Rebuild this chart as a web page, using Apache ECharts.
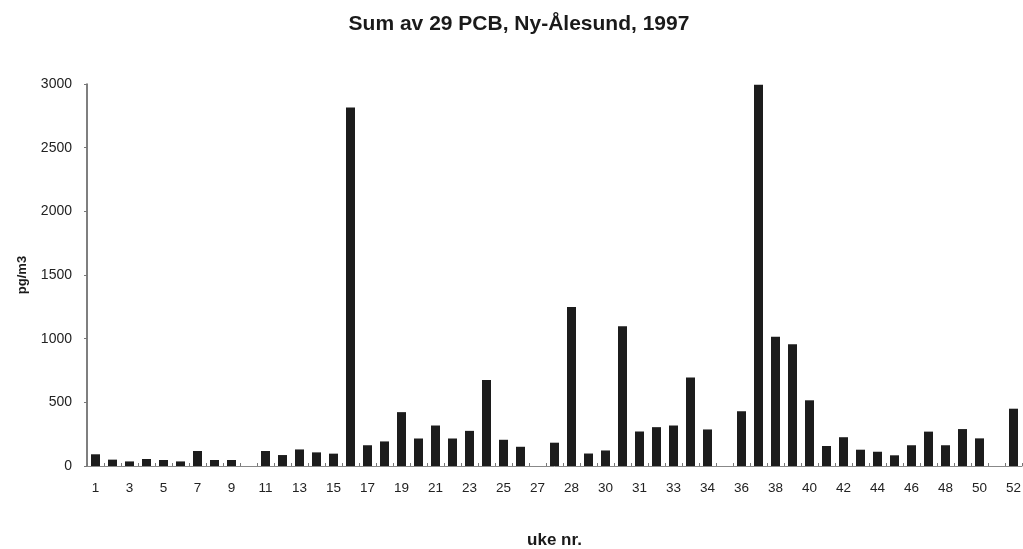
<!DOCTYPE html>
<html>
<head>
<meta charset="utf-8">
<title>Sum av 29 PCB, Ny-Ålesund, 1997</title>
<script src="https://cdn.jsdelivr.net/npm/echarts@6/dist/echarts.min.js"></script>
<style>
  html, body { margin: 0; padding: 0; background: #ffffff; }
  #chart { width: 1023px; height: 549px; }
</style>
</head>
<body>
<div id="chart"></div>
<script>
// Sampling weeks (some weeks carry two samples, so labels repeat)
const weeks = [
  '1','2','3','4','5','6','7','8','9','10',
  '11','12','13','14','15','16','17','18','19','20',
  '21','22','23','24','25','26','27','28','28','29',
  '30','30','31','32','33','33','34','35','36','37',
  '38','39','40','41','42','43','44','45','46','47',
  '48','49','50','51','52'
];

// Sum of 29 PCB congeners, pg/m3 (null = no sample)
const pcbSum = [
  92, 50, 36, 55, 47, 36, 118, 47, 47, null,
  118, 86, 130, 107, 97, 2815, 163, 193, 423, 216,
  318, 216, 276, 675, 206, 151, null, 183, 1249, 98,
  122, 1098, 271, 305, 318, 695, 287, null, 430, 2995,
  1016, 956, 516, 157, 226, 128, 112, 84, 163, 270,
  163, 290, 217, null, 450
];

const yTicks = { min: 0, max: 3000, interval: 500 };

const chart = echarts.init(document.getElementById('chart'), null, { renderer: 'canvas' });

const font = '"Liberation Sans", Arial, Helvetica, sans-serif';

chart.setOption({
  animation: false,
  backgroundColor: '#ffffff',
  title: {
    text: 'Sum av 29 PCB, Ny-Ålesund, 1997',
    left: 514,
    textAlign: 'center',
    top: 9,
    textStyle: { fontFamily: font, fontSize: 21, fontWeight: 'bold', color: '#1a1a1a' }
  },
  grid: { left: 87, right: 1, top: 84, bottom: 83, containLabel: false, outerBoundsMode: 'none' },
  xAxis: {
    type: 'category',
    data: weeks,
    name: 'uke nr.',
    nameLocation: 'middle',
    nameGap: 66,
    nameTextStyle: { fontFamily: font, fontSize: 17, fontWeight: 'bold', color: '#1a1a1a' },
    axisLine: { show: true, lineStyle: { color: '#888888', width: 1 } },
    axisTick: { show: true, inside: true, length: 3, alignWithLabel: false, interval: 0, lineStyle: { color: '#777777' } },
    axisLabel: { interval: 1, margin: 15, fontFamily: font, fontSize: 13.5, color: '#222222' },
    splitLine: { show: false }
  },
  yAxis: {
    type: 'value',
    min: yTicks.min,
    max: yTicks.max,
    interval: yTicks.interval,
    name: 'pg/m3',
    nameLocation: 'middle',
    nameRotate: 90,
    nameGap: 58,
    nameTextStyle: { fontFamily: font, fontSize: 13, fontWeight: 'bold', color: '#1a1a1a' },
    axisLine: { show: true, lineStyle: { color: '#555555', width: 1.5 } },
    axisTick: { show: true, length: 3, lineStyle: { color: '#777777' } },
    axisLabel: {
      margin: 15,
      fontFamily: font,
      fontSize: 14,
      color: '#222222',
      formatter: (v) => String(v)
    },
    splitLine: { show: false }
  },
  series: [{
    type: 'bar',
    data: pcbSum,
    barWidth: 9,
    itemStyle: { color: '#1c1c1c' }
  }]
});
</script>
</body>
</html>
